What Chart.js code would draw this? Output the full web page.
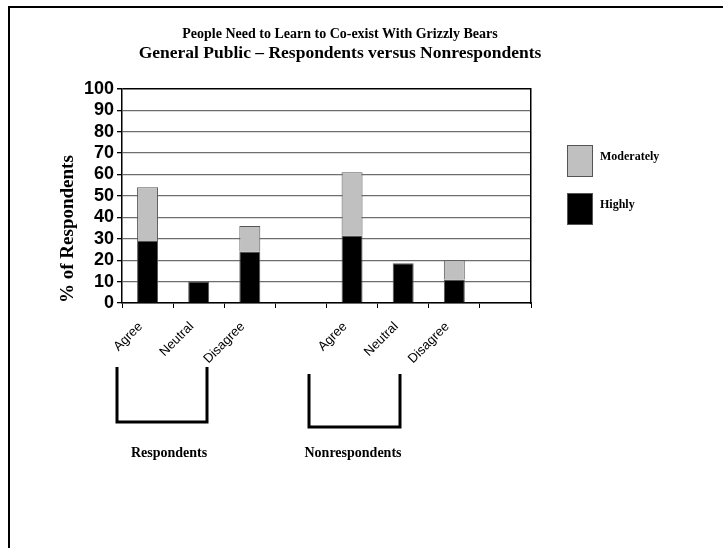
<!DOCTYPE html>
<html>
<head>
<meta charset="utf-8">
<script src="https://cdn.jsdelivr.net/npm/chart.js@4.4.0/dist/chart.umd.min.js"></script>
<style>
  html, body { margin: 0; padding: 0; background: #fff; }
  #wrap { width: 723px; height: 548px; position: relative; }
</style>
</head>
<body>
<div id="wrap"><canvas id="bears" width="723" height="548"></canvas></div>
<script>
// data
var categories = ['Agree', 'Neutral', 'Disagree', '', 'Agree', 'Neutral', 'Disagree', ''];
var highly     = [29, 10, 24, null, 31.5, 18.5, 11, null];
var moderately = [25, null, 12, null, 29.5, null, 9, null];
var yTicks = [0, 10, 20, 30, 40, 50, 60, 70, 80, 90, 100];
var groupNames = ['Respondents', 'Nonrespondents'];

var serif = "'Liberation Serif', 'Times New Roman', serif";
var sans = "'Liberation Sans', Arial, sans-serif";

// page frame, legend, group brackets
var extras = {
  id: 'extras',
  afterDraw: function(chart) {
    var c = chart.ctx;
    c.save();
    // frame (left + top only)
    c.strokeStyle = '#000';
    c.lineWidth = 2;
    c.beginPath();
    c.moveTo(9, 548);
    c.lineTo(9, 7);
    c.lineTo(723, 7);
    c.stroke();

    // legend
    var items = [chart.data.datasets[1], chart.data.datasets[0]];
    var tops = [145, 193];
    c.font = 'bold 12px ' + serif;
    c.textBaseline = 'middle';
    c.textAlign = 'left';
    items.forEach(function(ds, i) {
      c.fillStyle = ds.backgroundColor;
      c.fillRect(567, tops[i], 25, 31);
      c.strokeStyle = '#555';
      c.lineWidth = 1;
      c.strokeRect(567.5, tops[i] + 0.5, 25, 31);
      c.fillStyle = '#000';
      c.fillText(ds.label, 600, tops[i] + 12);
    });

    // brackets under the groups
    var brackets = [
      { l: 117, r: 207, t: 367, b: 422 },
      { l: 309, r: 400, t: 374, b: 427 }
    ];
    c.strokeStyle = '#000';
    c.lineWidth = 3;
    c.lineJoin = 'miter';
    brackets.forEach(function(br) {
      c.beginPath();
      c.moveTo(br.l, br.t);
      c.lineTo(br.l, br.b);
      c.lineTo(br.r, br.b);
      c.lineTo(br.r, br.t);
      c.stroke();
    });
    c.font = 'bold 14px ' + serif;
    c.textAlign = 'center';
    c.fillStyle = '#000';
    c.fillText(groupNames[0], 169, 453);
    c.fillText(groupNames[1], 353, 453);
    c.restore();
  }
};

var ctx = document.getElementById('bears').getContext('2d');
var chart = new Chart(ctx, {
  type: 'bar',
  data: {
    labels: categories,
    datasets: [
      {
        label: 'Highly',
        data: highly,
        backgroundColor: '#000000',
        borderColor: '#555555',
        borderWidth: 1,
        barPercentage: 0.41,
        categoryPercentage: 1
      },
      {
        label: 'Moderately',
        data: moderately,
        backgroundColor: '#C0C0C0',
        borderColor: '#555555',
        borderWidth: 1,
        barPercentage: 0.41,
        categoryPercentage: 1
      }
    ]
  },
  options: {
    responsive: false,
    animation: false,
    layout: {
      padding: { left: 57, right: 100, top: 22, bottom: 185 }
    },
    plugins: {
      legend: { display: false },
      tooltip: { enabled: false },
      title: {
        display: true,
        text: 'People Need to Learn to Co-exist With Grizzly Bears',
        color: '#000',
        font: { family: serif, size: 14, weight: 'bold', lineHeight: 1.2 },
        padding: { top: 4, bottom: 0 }
      },
      subtitle: {
        display: true,
        text: 'General Public \u2013 Respondents versus Nonrespondents',
        color: '#000',
        font: { family: serif, size: 17.5, weight: 'bold', lineHeight: 1.2 },
        padding: { top: 0, bottom: 25 }
      }
    },
    scales: {
      x: {
        stacked: true,
        grid: {
          offset: true,
          drawOnChartArea: false,
          drawTicks: true,
          tickLength: 5,
          color: '#000'
        },
        border: { color: '#000', width: 1.5 },
        ticks: {
          autoSkip: false,
          minRotation: 45,
          maxRotation: 45,
          color: '#000',
          padding: 11,
          labelOffset: -7,
          font: { family: sans, size: 13 }
        },
        afterFit: function(s) { s.height = 60; }
      },
      y: {
        stacked: true,
        min: 0,
        max: 100,
        afterBuildTicks: function(s) {
          s.ticks = yTicks.map(function(v) { return { value: v }; });
        },
        grid: {
          color: function(c) { return c.tick && c.tick.value === 100 ? '#000' : '#6e6e6e'; },
          lineWidth: function(c) { return c.tick && c.tick.value === 100 ? 1.5 : 1.3; },
          tickColor: '#000',
          tickLength: 5
        },
        border: { color: '#000', width: 1.5 },
        ticks: {
          autoSkip: false,
          color: '#000',
          padding: 3,
          font: { family: sans, size: 18, weight: 'bold' }
        },
        title: {
          display: true,
          text: '% of Respondents',
          align: 'start',
          color: '#000',
          padding: { top: 0, bottom: 0 },
          font: { family: serif, size: 19, weight: 'bold', lineHeight: 1.2 }
        },
        afterFit: function(s) { s.width = 65; }
      },
      y2: {
        position: 'right',
        min: 0,
        max: 100,
        grid: { drawOnChartArea: false, drawTicks: false },
        border: { color: '#000', width: 1.5 },
        ticks: { display: false },
        afterFit: function(s) { s.width = 92; }
      }
    }
  },
  plugins: [extras]
});
</script>
</body>
</html>
